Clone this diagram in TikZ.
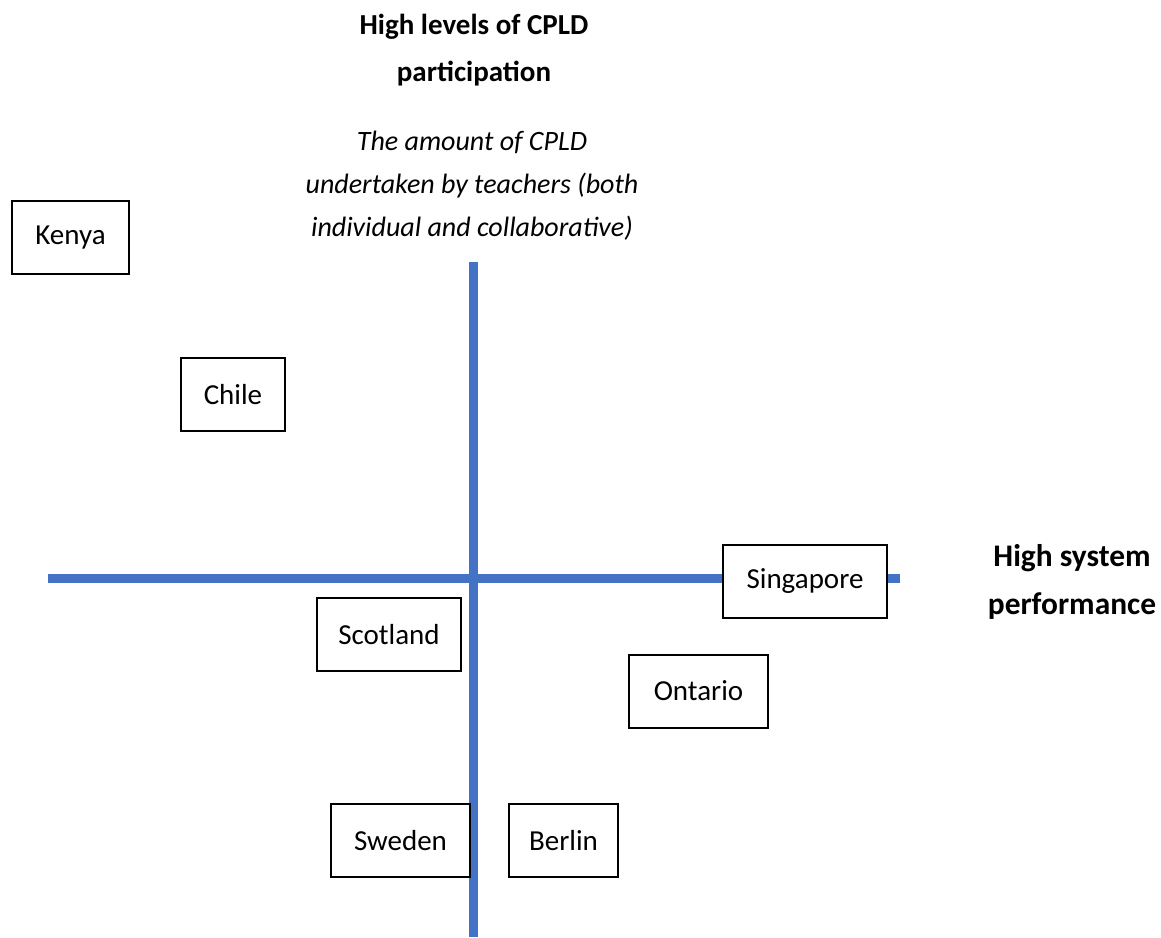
\documentclass[tikz,border=0pt]{standalone}
\usepackage{fontspec}
\setmainfont{Carlito}
\usetikzlibrary{positioning}
\definecolor{axisblue}{HTML}{4472C4}

\begin{document}
\begin{tikzpicture}[x=0.5pt,y=-0.5pt]
	\tikzstyle{every node}=[font=\fontsize{14.5}{21}\selectfont]
	\tikzstyle{country}=[draw,line width=1pt,fill=white,inner sep=0pt,minimum height=36.5pt]
	\tikzstyle{axis}=[draw=axisblue,line width=4.5pt]

	\useasboundingbox (0,0) rectangle (1161,937);

	% axes
	\coordinate (vtop) at (473,262);
	\coordinate (vbot) at (473,937);
	\coordinate (hleft) at (48,578);
	\coordinate (hright) at (900,578);
	\path[axis] (vtop) -- (vbot);
	\path[axis] (hleft) -- (hright);

	% axis titles
	\node (ytitle) [align=center,font=\fontsize{14.5}{23.5}\selectfont\bfseries] at (474,50) {High levels of CPLD\\participation};
	\node (ynote) [align=center,font=\fontsize{14}{21.5}\selectfont\itshape] at (472,186) {The amount of CPLD\\undertaken by teachers (both\\individual and collaborative)};
	\node (xtitle) [align=center,font=\fontsize{15.7}{24}\selectfont\bfseries] at (1072,582) {High system\\performance};

	% countries
	\node (kenya) [country,minimum width=58.5pt] at (70.5,237.5) {Kenya};
	\node (chile) [country,minimum width=52pt] at (233,394.5) {Chile};
	\node (singapore) [country,minimum width=82pt] at (805,581) {Singapore};
	\node (scotland) [country,minimum width=72pt] at (389,634.5) {Scotland};
	\node (ontario) [country,minimum width=69.5pt] at (698.5,691) {Ontario};
	\node (sweden) [country,minimum width=69.5pt] at (400.5,840.5) {Sweden};
	\node (berlin) [country,minimum width=54.5pt] at (563.5,840.5) {Berlin};

\end{tikzpicture}
\end{document}
